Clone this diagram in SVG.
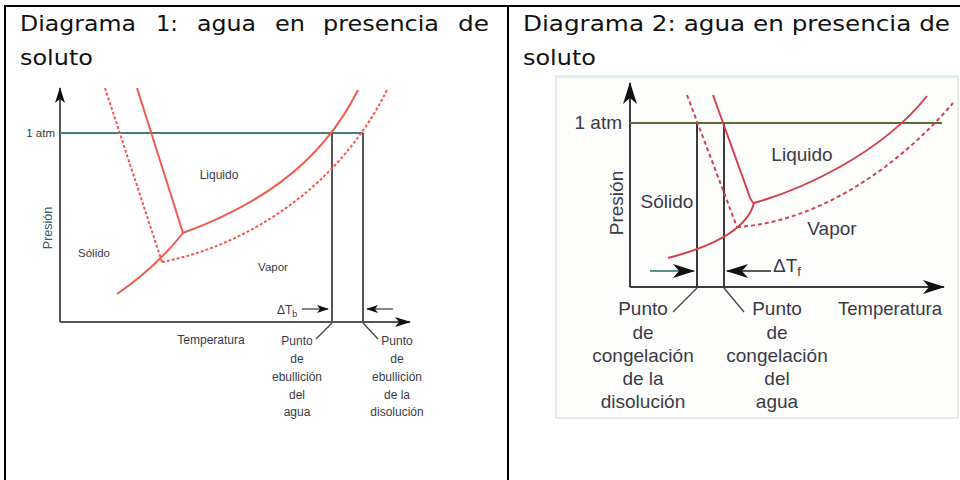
<svg xmlns="http://www.w3.org/2000/svg" width="960" height="480" viewBox="0 0 960 480">
<style>
.hdr{font-family:"DejaVu Sans","Verdana",sans-serif;font-size:22px;fill:#111}
.lab{font-family:"Liberation Sans","Arial",sans-serif;fill:#3a3a48}
.s{font-size:12px}
.b{font-size:19px}
.ax{stroke:#555;stroke-width:2;fill:none}
.ax2{stroke:#3c3c3c;stroke-width:2;fill:none}
.red{stroke:#f25a4e;stroke-width:2;fill:none}
.redd{stroke:#f25a4e;stroke-width:2;fill:none;stroke-dasharray:3 2}
.red2{stroke:#d2414f;stroke-width:2;fill:none}
.red2d{stroke:#d2414f;stroke-width:2;fill:none;stroke-dasharray:4 3}
.thin{stroke:#444;stroke-width:1.3;fill:none}
</style>
<defs>
<marker id="ah" markerUnits="userSpaceOnUse" markerWidth="16" markerHeight="12" refX="15" refY="6" orient="auto">
<path d="M0,1 L16,6 L0,11 L4,6 Z" fill="#111"/>
</marker>
<marker id="ahs" markerUnits="userSpaceOnUse" markerWidth="12" markerHeight="10" refX="11" refY="5" orient="auto">
<path d="M0,1 L12,5 L0,9 L3,5 Z" fill="#111"/>
</marker>
<marker id="ahb" markerUnits="userSpaceOnUse" markerWidth="22" markerHeight="16" refX="21" refY="8" orient="auto">
<path d="M0,1 L22,8 L0,15 L6,8 Z" fill="#111"/>
</marker>
</defs>
<rect width="960" height="480" fill="#fff"/>
<g id="table">
<line x1="4" y1="6" x2="960" y2="6" stroke="#000" stroke-width="2"/>
<line x1="5" y1="6" x2="5" y2="480" stroke="#000" stroke-width="2"/>
<line x1="508" y1="6" x2="508" y2="480" stroke="#000" stroke-width="2"/>
</g>
<g id="header1">
<text class="hdr" x="20" y="31" textLength="116" lengthAdjust="spacingAndGlyphs">Diagrama</text>
<text class="hdr" x="156" y="31" textLength="22" lengthAdjust="spacingAndGlyphs">1:</text>
<text class="hdr" x="197" y="31" textLength="59" lengthAdjust="spacingAndGlyphs">agua</text>
<text class="hdr" x="275" y="31" textLength="30" lengthAdjust="spacingAndGlyphs">en</text>
<text class="hdr" x="323" y="31" textLength="116" lengthAdjust="spacingAndGlyphs">presencia</text>
<text class="hdr" x="458" y="31" textLength="31" lengthAdjust="spacingAndGlyphs">de</text>
<text class="hdr" x="20" y="65" textLength="73" lengthAdjust="spacingAndGlyphs">soluto</text>
</g>
<g id="header2">
<text class="hdr" x="523" y="31" textLength="427" lengthAdjust="spacingAndGlyphs">Diagrama 2: agua en presencia de</text>
<text class="hdr" x="523" y="65" textLength="73" lengthAdjust="spacingAndGlyphs">soluto</text>
</g>

<g id="diagram1">
<g id="d1-connectors">
<line class="ax" x1="60" y1="322" x2="60" y2="88" marker-end="url(#ah)"/>
<line class="ax" x1="60" y1="322" x2="410" y2="322" marker-end="url(#ah)"/>
<line x1="60" y1="133" x2="363" y2="133" stroke="#4a7a7a" stroke-width="2"/>
<line class="ax" x1="332" y1="133" x2="332" y2="322"/>
<line class="ax" x1="363" y1="133" x2="363" y2="322"/>
<path class="red" d="M137,88 L183,233"/>
<path class="red" d="M183,233 C250,208 318,170 358,90"/>
<path class="red" d="M117,294 Q155,268 183,233"/>
<path class="redd" d="M105,88 L162,262"/>
<path class="redd" d="M162,262 C250,245 340,185 387,90"/>
<line class="thin" x1="302" y1="309" x2="328" y2="309" marker-end="url(#ahs)"/>
<line class="thin" x1="393" y1="309" x2="367" y2="309" marker-end="url(#ahs)"/>
<line class="thin" x1="332" y1="323" x2="316" y2="339"/>
<line class="thin" x1="363" y1="323" x2="378" y2="339"/>
</g>
<g id="d1-labels" class="lab s">
<text x="55" y="137" text-anchor="end" font-size="11.5">1 atm</text>
<text transform="translate(52,228) rotate(-90)" text-anchor="middle" font-size="12.5" fill="#3a5a6a">Presión</text>
<text x="219" y="179" text-anchor="middle">Liquido</text>
<text x="94" y="257" text-anchor="middle" font-size="11.5">Sólido</text>
<text x="273" y="271" text-anchor="middle" font-size="11.5">Vapor</text>
<text x="211" y="344" text-anchor="middle">Temperatura</text>
<text x="277" y="314">ΔT<tspan font-size="9" dy="3">b</tspan></text>
<text text-anchor="middle"><tspan x="297" y="345">Punto</tspan><tspan x="297" y="363">de</tspan><tspan x="297" y="381">ebullición</tspan><tspan x="297" y="399">del</tspan><tspan x="297" y="416">agua</tspan></text>
<text text-anchor="middle"><tspan x="397" y="345">Punto</tspan><tspan x="397" y="363">de</tspan><tspan x="397" y="381">ebullición</tspan><tspan x="397" y="399">de la</tspan><tspan x="397" y="416">disolución</tspan></text>
</g>
</g>

<g id="diagram2">
<rect x="556" y="76" width="402" height="342" fill="#fdfefc" stroke="#dfe6dc" stroke-width="1.5"/>
<line x1="556" y1="77" x2="958" y2="77" stroke="#d8f0ee" stroke-width="2"/>
<g id="d2-connectors">
<line class="ax2" x1="630" y1="287" x2="630" y2="83" marker-end="url(#ahb)"/>
<line class="ax2" x1="630" y1="287" x2="944" y2="287" marker-end="url(#ahb)"/>
<line x1="630" y1="123" x2="942" y2="123" stroke="#5e6a3a" stroke-width="2"/>
<line class="ax2" x1="697" y1="123" x2="697" y2="287"/>
<line class="ax2" x1="724" y1="123" x2="724" y2="287"/>
<path class="red2" d="M713,95 L748,192 Q751,202 754,203"/>
<path class="red2" d="M754,203 C800,190 880,155 927,96"/>
<path class="red2" d="M668,258 Q745,238 754,203"/>
<path class="red2d" d="M687,95 L737,227"/>
<path class="red2d" d="M737,227 C820,222 900,165 953,103"/>
<line x1="650" y1="271" x2="694" y2="271" stroke="#2a6a6a" stroke-width="1.5" marker-end="url(#ahb)"/>
<line x1="771" y1="271" x2="727" y2="271" stroke="#222" stroke-width="1.5" marker-end="url(#ahb)"/>
<line class="thin" x1="697" y1="288" x2="673" y2="312"/>
<line class="thin" x1="724" y1="288" x2="744" y2="312"/>
</g>
<g id="d2-labels" class="lab b">
<text x="622" y="129" text-anchor="end">1 atm</text>
<text transform="translate(623,203) rotate(-90)" text-anchor="middle">Presión</text>
<text x="802" y="161" text-anchor="middle">Liquido</text>
<text x="667" y="208" text-anchor="middle">Sólido</text>
<text x="832" y="235" text-anchor="middle">Vapor</text>
<text x="890" y="315" text-anchor="middle" font-size="18.5">Temperatura</text>
<text x="773" y="272">ΔT<tspan font-size="13" dy="4">f</tspan></text>
<text text-anchor="middle"><tspan x="643" y="315">Punto</tspan><tspan x="643" y="339">de</tspan><tspan x="643" y="362">congelación</tspan><tspan x="643" y="385">de la</tspan><tspan x="643" y="408">disolución</tspan></text>
<text text-anchor="middle"><tspan x="777" y="315">Punto</tspan><tspan x="777" y="339">de</tspan><tspan x="777" y="362">congelación</tspan><tspan x="777" y="385">del</tspan><tspan x="777" y="408">agua</tspan></text>
</g>
</g>
</svg>
